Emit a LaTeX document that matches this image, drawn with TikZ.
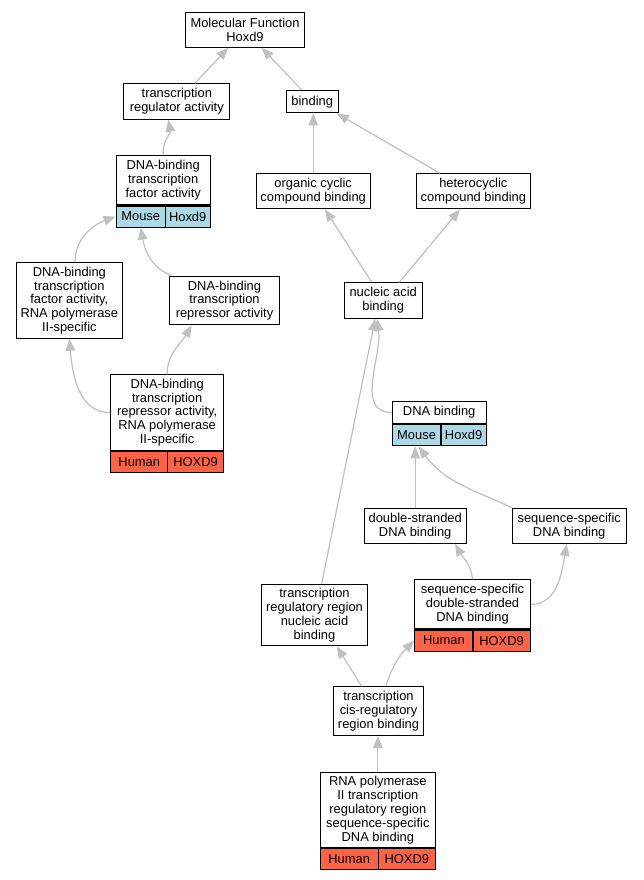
\documentclass[tikz,border=0pt]{standalone}
\usepackage{fontspec}
\setmainfont{Liberation Sans}
\usetikzlibrary{arrows.meta}
\definecolor{edgegray}{RGB}{192,192,192}
\definecolor{mouseblue}{RGB}{173,216,230}
\definecolor{humanred}{RGB}{255,99,71}
\newcommand\gvfont{\fontsize{12.9pt}{13.8pt}\selectfont}
\tikzset{
  box/.style={draw=black, line width=1.1pt, fill=white, inner sep=0pt, align=center, font=\gvfont},
  cellm/.style={box, fill=mouseblue, minimum height=21pt},
  cellh/.style={box, fill=humanred, minimum height=21pt},
  edge/.style={draw=edgegray, line width=1.2pt, -{Triangle[length=12pt,width=9.5pt]}},
}
\begin{document}
\begin{tikzpicture}[x=1pt,y=-1pt]
\useasboundingbox[fill=white] (0,0) rectangle (643,880);
% nodes
\node[box, minimum width=119pt, minimum height=35pt] (n1) at (245,29.7) {Molecular Function\\Hoxd9};
\node[box, minimum width=106pt, minimum height=35.4pt] (n2) at (176.8,101.5) {transcription\\regulator activity};
\node[box, minimum width=52pt, minimum height=22.3pt] (n3) at (312.2,101.7) {binding};
\node[box, minimum width=94pt, minimum height=49.2pt] (n4) at (163.2,180.4) {DNA-binding\\transcription\\factor activity};
\node[cellm, minimum width=49pt, anchor=north west] (n4a) at (n4.south west) {Mouse};
\node[cellm, minimum width=45pt, anchor=north east] (n4b) at (n4.south east) {Hoxd9};
\node[box, minimum width=106.3pt, minimum height=75.4pt] (n5) at (69.35,300.5) {DNA-binding\\transcription\\factor activity,\\RNA polymerase\\II-specific};
\node[box, minimum width=110pt, minimum height=48.6pt] (n6) at (224.5,300.5) {DNA-binding\\transcription\\repressor activity};
\node[box, minimum width=112.7pt, minimum height=75.5pt] (n7) at (167.15,412.6) {DNA-binding\\transcription\\repressor activity,\\RNA polymerase\\II-specific};
\node[cellh, minimum width=56.9pt, anchor=north west] (n7a) at (n7.south west) {Human};
\node[cellh, minimum width=55.8pt, anchor=north east] (n7b) at (n7.south east) {HOXD9};
\node[box, minimum width=114pt, minimum height=35pt] (n8) at (313.2,191.3) {organic cyclic\\compound binding};
\node[box, minimum width=114.3pt, minimum height=35pt] (n9) at (473.35,191.3) {heterocyclic\\compound binding};
\node[box, minimum width=78pt, minimum height=35.4pt] (n10) at (383.2,300.5) {nucleic acid\\binding};
\node[box, minimum width=94pt, minimum height=22.5pt] (n11) at (439.2,412.5) {DNA binding};
\node[cellm, minimum width=48.8pt, anchor=north west] (n11a) at (n11.south west) {Mouse};
\node[cellm, minimum width=45.2pt, anchor=north east] (n11b) at (n11.south east) {Hoxd9};
\node[box, minimum width=102pt, minimum height=35.3pt] (n12) at (415.2,525.85) {double-stranded\\DNA binding};
\node[box, minimum width=114pt, minimum height=35.3pt] (n13) at (569.2,525.85) {sequence-specific\\DNA binding};
\node[box, minimum width=106pt, minimum height=61.6pt] (n14) at (314.5,615) {transcription\\regulatory region\\nucleic acid\\binding};
\node[box, minimum width=115.4pt, minimum height=49.2pt] (n15) at (472.5,604.4) {sequence-specific\\double-stranded\\DNA binding};
\node[cellh, minimum width=58.2pt, anchor=north west] (n15a) at (n15.south west) {Human};
\node[cellh, minimum width=57.2pt, anchor=north east] (n15b) at (n15.south east) {HOXD9};
\node[box, minimum width=90pt, minimum height=48.7pt] (n16) at (378.5,711.15) {transcription\\cis-regulatory\\region binding};
\node[box, minimum width=115.3pt, minimum height=75.2pt] (n17) at (377.85,810.1) {RNA polymerase\\II transcription\\regulatory region\\sequence-specific\\DNA binding};
\node[cellh, minimum width=58pt, anchor=north west] (n17a) at (n17.south west) {Human};
\node[cellh, minimum width=57.3pt, anchor=north east] (n17b) at (n17.south east) {HOXD9};
% edges
\draw[edge] ([xshift=18.2pt]n2.north) -- ([xshift=-16.7pt]n1.south);
\draw[edge] ([xshift=-10.5pt]n3.north) -- ([xshift=16.7pt]n1.south);
\draw[edge] (n4.north) to[out=95,in=-80] ([xshift=-8.5pt]n2.south);
\draw[edge] (n8.north) -- (n8.north |- n3.south);
\draw[edge] ([xshift=-33.35pt]n9.north) -- ([xshift=-2pt]n3.south east);
\draw[edge] ([xshift=5.6pt]n5.north) to[out=90,in=200] (n4a.west);
\draw[edge] ([xshift=3pt]n6.north west) to[out=160,in=-80] (n4a.south);
\draw[edge] (n7.west) to[out=180,in=-85] (n5.south);
\draw[edge] (n7.north) to[out=90,in=240] ([xshift=-32.8pt]n6.south);
\draw[edge] ([xshift=-11.5pt]n10.north) -- ([xshift=11.8pt]n8.south);
\draw[edge] ([xshift=16.1pt]n10.north) -- ([xshift=-13.35pt]n9.south);
\draw[edge] (n11.west) to[out=180,in=-82] ([xshift=-6.2pt]n10.south);
\draw[edge] ([xshift=7.2pt]n14.north) -- ([xshift=-8pt]n10.south);
\draw[edge] (n12.north) -- (n12.north |- n11a.south);
\draw[edge] (n13.north west) to[out=155,in=-54] ([xshift=2pt]n11a.south);
\draw[edge] (n15.north) to[out=95,in=-60] ([xshift=39.8pt]n12.south);
\draw[edge] (n15.east) to[out=0,in=-100] ([xshift=-2.5pt]n13.south);
\draw[edge] ([xshift=-16.8pt]n16.north) -- ([xshift=22.2pt]n14.south);
\draw[edge] ([xshift=7.2pt]n16.north) to[out=72,in=225] (n15a.west);
\draw[edge] (n17.north) -- (n17.north |- n16.south);
\end{tikzpicture}
\end{document}
